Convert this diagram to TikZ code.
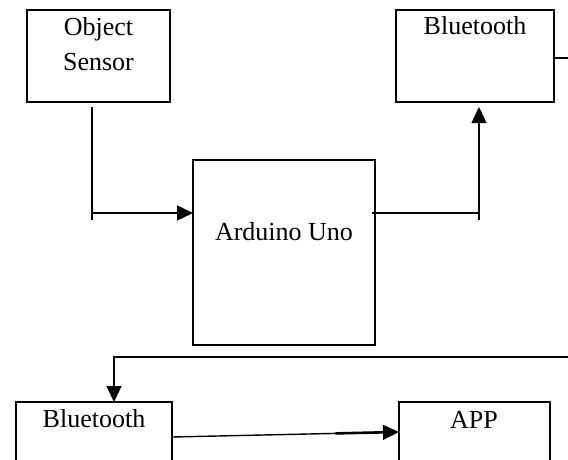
\documentclass[tikz,border=0pt]{standalone}
\usepackage{fontspec}
\setmainfont{Liberation Serif}
\usetikzlibrary{arrows.meta,calc}
\begin{document}
\begin{tikzpicture}[x=1pt,y=-1pt,
  box/.style={draw,line width=2pt,outer sep=0pt,inner sep=0pt,anchor=north west},
  txt/.style={anchor=base,inner sep=0pt,font=\fontsize{26}{30}\selectfont},
  conn/.style={line width=1.4pt},
  arr/.style={conn,-{Triangle[length=16pt,width=15pt]}},
  heavy/.style={line width=2.6pt,shorten >=12pt}]
\useasboundingbox (0,0) rectangle (568,459);
\clip (0,0) rectangle (568,459);
% boxes
\node[box,minimum width=143pt,minimum height=92pt] (os) at (27,10) {};
\node[box,minimum width=158pt,minimum height=92pt] (bt1) at (396,10) {};
\node[box,minimum width=182pt,minimum height=185pt] (ard) at (193,160) {};
\node[box,minimum width=156pt,minimum height=92pt] (bt2) at (16,402) {};
\node[box,minimum width=151pt,minimum height=92pt] (app) at (399,402) {};
% texts
\node[txt] (t1) at (98.5,35) {Object};
\node[txt] (t2) at (98.5,70) {Sensor};
\node[txt] (t3) at (475,34) {Bluetooth};
\node[txt] (t4) at (284,240) {Arduino Uno};
\node[txt] (t5) at (94,427) {Bluetooth};
\node[txt] (t6) at (474,428) {APP};
% junction coordinates
\coordinate (j1) at (92,213);
\coordinate (j1b) at (92,220);
\coordinate (j2) at (479,213);
\coordinate (j2b) at (479,220);
\coordinate (r1) at (568,58);
\coordinate (r2) at (568,357);
\coordinate (h1) at (157,213);
\coordinate (h2) at (479,155);
\coordinate (h3) at (114,380);
\coordinate (bt2out) at ($(bt2.north east)+(0,35)$);
\coordinate (appin) at ($(app.north west)+(0,30)$);
% connectors
\draw[conn] ([xshift=-6.5pt,yshift=-5pt]os.south) -- (j1b);
\draw[arr] (j1) -- (j1 -| ard.west);
\draw[heavy] (h1) -- (j1 -| ard.west);
\draw[conn] ([xshift=-3pt]j1 -| ard.east) -- (j2);
\draw[arr] (j2b) -- ([xshift=4pt,yshift=-5pt]bt1.south);
\draw[heavy] (h2) -- ([xshift=4pt,yshift=-5pt]bt1.south);
\draw[conn] (bt1.north east |- r1) -- (r1);
\draw[arr] (r2) -| ([xshift=20pt]bt2.north);
\draw[heavy] (h3) -- ([xshift=20pt]bt2.north);
\draw[arr] (bt2out) -- (appin);
\draw[heavy] ($(bt2out)!0.72!(appin)$) -- (appin);
\end{tikzpicture}
\end{document}
